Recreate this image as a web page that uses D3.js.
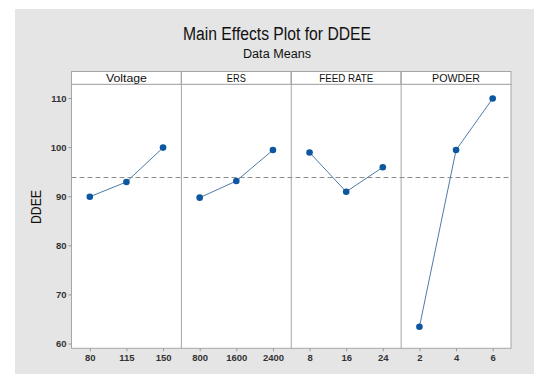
<!DOCTYPE html>
<html>
<head>
<meta charset="utf-8">
<script src="https://cdn.jsdelivr.net/npm/d3@7/dist/d3.min.js"></script>
<style>
  html, body { margin: 0; padding: 0; background: #fff; }
  svg { display: block; }
  text { font-family: "Liberation Sans", Arial, sans-serif; }
</style>
</head>
<body>
<svg id="chart" width="536" height="377"></svg>
<script>
// Factors and their levels
const factors = ["Voltage", "ERS", "FEED RATE", "POWDER"];
const voltageLevels = ["80", "115", "150"];
const ersLevels = ["800", "1600", "2400"];
const feedLevels = ["8", "16", "24"];
const powderLevels = ["2", "4", "6"];

// Mean DDEE at each level
const voltageMeans = [89.9, 92.9, 99.9];
const ersMeans = [89.7, 93.1, 99.4];
const feedMeans = [98.9, 90.9, 95.9];
const powderMeans = [63.4, 99.4, 109.9];

const grandMean = 93.8;
const yTicks = [60, 70, 80, 90, 100, 110];

const levelSets = [voltageLevels, ersLevels, feedLevels, powderLevels];
const meanSets = [voltageMeans, ersMeans, feedMeans, powderMeans];

const svg = d3.select("#chart");

// Layout
const plotL = 71.5, plotR = 511, stripTop = 71.5, plotTop = 84.3, plotBottom = 348.3;

// Outer grey frame
svg.append("rect")
  .attr("x", 15).attr("y", 9).attr("width", 519).attr("height", 365)
  .attr("fill", "#e5e5e5");

// Titles
svg.append("text")
  .attr("x", 277).attr("y", 40)
  .attr("text-anchor", "middle")
  .attr("font-size", 18).attr("fill", "#111")
  .attr("textLength", 188).attr("lengthAdjust", "spacingAndGlyphs")
  .text("Main Effects Plot for DDEE");
svg.append("text")
  .attr("x", 277).attr("y", 57.5)
  .attr("text-anchor", "middle")
  .attr("font-size", 12).attr("fill", "#111")
  .attr("textLength", 68).attr("lengthAdjust", "spacingAndGlyphs")
  .text("Data Means");

// Scales
const panel = d3.scaleBand().domain(factors).range([plotL, plotR]).padding(0);
const y = d3.scaleLinear().domain([60, 110]).range([343.5, 98]);

// Plot area
svg.append("rect")
  .attr("x", plotL).attr("y", plotTop).attr("width", plotR - plotL).attr("height", plotBottom - plotTop)
  .attr("fill", "#fff").attr("stroke", "#a6a6a6").attr("stroke-width", 1);

// Strip headers
const stripWidths = { "Voltage": 41, "ERS": 19, "FEED RATE": 54, "POWDER": 48 };
factors.forEach(f => {
  const x0 = panel(f);
  svg.append("rect")
    .attr("x", x0).attr("y", stripTop).attr("width", panel.bandwidth()).attr("height", plotTop - stripTop)
    .attr("fill", "#fff").attr("stroke", "#a6a6a6").attr("stroke-width", 1);
  svg.append("text")
    .attr("x", x0 + panel.bandwidth() / 2).attr("y", 82)
    .attr("text-anchor", "middle").attr("font-size", 11).attr("fill", "#111")
    .attr("textLength", stripWidths[f]).attr("lengthAdjust", "spacingAndGlyphs")
    .text(f);
});

// Panel dividers
factors.slice(1).forEach(f => {
  svg.append("line")
    .attr("x1", panel(f)).attr("x2", panel(f))
    .attr("y1", stripTop).attr("y2", plotBottom)
    .attr("stroke", "#a6a6a6").attr("stroke-width", 1);
});

// Y axis
const yAxis = d3.axisLeft(y).tickValues(yTicks).tickSize(3).tickPadding(2);
const gy = svg.append("g").attr("transform", `translate(${plotL},0)`).call(yAxis);
gy.select(".domain").remove();
gy.selectAll(".tick line").attr("stroke", "#999");
gy.selectAll(".tick text")
  .attr("font-family", "Liberation Sans, Arial, sans-serif")
  .attr("font-size", 9.5).attr("font-weight", "bold").attr("fill", "#333");

svg.append("text")
  .attr("transform", `translate(41,207) rotate(-90)`)
  .attr("text-anchor", "middle").attr("font-size", 14).attr("fill", "#111")
  .attr("textLength", 34).attr("lengthAdjust", "spacingAndGlyphs")
  .text("DDEE");

// Grand mean reference line
svg.append("line")
  .attr("x1", plotL).attr("x2", plotR)
  .attr("y1", y(grandMean)).attr("y2", y(grandMean))
  .attr("stroke", "#8c8c8c").attr("stroke-width", 1)
  .attr("stroke-dasharray", "5,3");

// Each factor panel: x axis, line and points
factors.forEach((f, i) => {
  const levels = levelSets[i];
  const means = meanSets[i];
  const x = d3.scalePoint().domain(levels)
    .range([panel(f), panel(f) + panel.bandwidth()]).padding(0.5);

  const xAxis = d3.axisBottom(x).tickSize(3).tickPadding(3);
  const gx = svg.append("g").attr("transform", `translate(0,${plotBottom})`).call(xAxis);
  gx.select(".domain").remove();
  gx.selectAll(".tick line").attr("stroke", "#999");
  gx.selectAll(".tick text")
    .attr("font-family", "Liberation Sans, Arial, sans-serif")
    .attr("font-size", 9.5).attr("font-weight", "bold").attr("fill", "#333");

  const pts = levels.map((lv, j) => ({ lv, v: means[j] }));
  svg.append("path")
    .datum(pts)
    .attr("fill", "none").attr("stroke", "#4f7ba8").attr("stroke-width", 1)
    .attr("d", d3.line().x(d => x(d.lv)).y(d => y(d.v)));
  svg.selectAll(null).data(pts).enter().append("circle")
    .attr("cx", d => x(d.lv)).attr("cy", d => y(d.v)).attr("r", 3.3)
    .attr("fill", "#0d56a0");
});
</script>
</body>
</html>
